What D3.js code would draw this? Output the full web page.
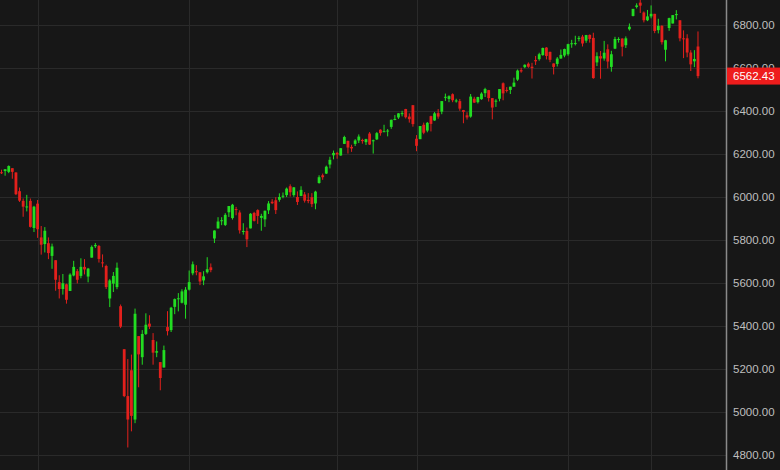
<!DOCTYPE html>
<html><head><meta charset="utf-8">
<script src="https://cdn.jsdelivr.net/npm/d3@7/dist/d3.min.js"></script>
<style>html,body{margin:0;padding:0;background:#171717;}svg{display:block;}</style>
</head><body><div id="chart"></div>
<script>
const dates = ["2025-02-13","2025-02-14","2025-02-18","2025-02-19","2025-02-20","2025-02-21","2025-02-24","2025-02-25","2025-02-26","2025-02-27","2025-02-28",
"2025-03-03","2025-03-04","2025-03-05","2025-03-06","2025-03-07","2025-03-10","2025-03-11","2025-03-12","2025-03-13","2025-03-14","2025-03-17","2025-03-18","2025-03-19","2025-03-20","2025-03-21","2025-03-24","2025-03-25","2025-03-26","2025-03-27","2025-03-28","2025-03-31",
"2025-04-01","2025-04-02","2025-04-03","2025-04-04","2025-04-07","2025-04-08","2025-04-09","2025-04-10","2025-04-11","2025-04-14","2025-04-15","2025-04-16","2025-04-17","2025-04-21","2025-04-22","2025-04-23","2025-04-24","2025-04-25","2025-04-28","2025-04-29","2025-04-30",
"2025-05-01","2025-05-02","2025-05-05","2025-05-06","2025-05-07","2025-05-08","2025-05-09","2025-05-12","2025-05-13","2025-05-14","2025-05-15","2025-05-16","2025-05-19","2025-05-20","2025-05-21","2025-05-22","2025-05-23","2025-05-27","2025-05-28","2025-05-29","2025-05-30",
"2025-06-02","2025-06-03","2025-06-04","2025-06-05","2025-06-06","2025-06-09","2025-06-10","2025-06-11","2025-06-12","2025-06-13","2025-06-16","2025-06-17","2025-06-18","2025-06-20","2025-06-23","2025-06-24","2025-06-25","2025-06-26","2025-06-27","2025-06-30",
"2025-07-01","2025-07-02","2025-07-03","2025-07-07","2025-07-08","2025-07-09","2025-07-10","2025-07-11","2025-07-14","2025-07-15","2025-07-16","2025-07-17","2025-07-18","2025-07-21","2025-07-22","2025-07-23","2025-07-24","2025-07-25","2025-07-28","2025-07-29","2025-07-30","2025-07-31",
"2025-08-01","2025-08-04","2025-08-05","2025-08-06","2025-08-07","2025-08-08","2025-08-11","2025-08-12","2025-08-13","2025-08-14","2025-08-15","2025-08-18","2025-08-19","2025-08-20","2025-08-21","2025-08-22","2025-08-25","2025-08-26","2025-08-27","2025-08-28","2025-08-29",
"2025-09-02","2025-09-03","2025-09-04","2025-09-05","2025-09-08","2025-09-09","2025-09-10","2025-09-11","2025-09-12","2025-09-15","2025-09-16","2025-09-17","2025-09-18","2025-09-19","2025-09-22","2025-09-23","2025-09-24","2025-09-25","2025-09-26","2025-09-29","2025-09-30",
"2025-10-01","2025-10-02","2025-10-03","2025-10-06","2025-10-07","2025-10-08","2025-10-09","2025-10-10","2025-10-13","2025-10-14","2025-10-15","2025-10-16","2025-10-17","2025-10-20","2025-10-21","2025-10-22","2025-10-23","2025-10-24","2025-10-27","2025-10-28","2025-10-29","2025-10-30","2025-10-31",
"2025-11-03","2025-11-04","2025-11-05","2025-11-06","2025-11-07","2025-11-10","2025-11-11","2025-11-12","2025-11-13","2025-11-14","2025-11-17","2025-11-18","2025-11-19","2025-11-20"];

const opens = [6060,6115,6121,6117,6134,6114,6027,5982,5955,5982,5856,
5969,5812,5781,5785,5726,5706,5604,5572,5594,5563,5635,5655,5633,5675,5630,5718,5771,5772,5696,5679,5528,
5597,5581,5492,5292,5074,5194,4965,5353,5255,5363,5411,5335,5276,5232,5207,5395,5381,5489,5529,5508,5499,
5569,5645,5655,5650,5612,5650,5673,5807,5854,5891,5870,5929,5902,5944,5928,5841,5842,5854,5926,5939,5903,
5896,5938,5978,5985,5987,6005,6009,6050,6009,6000,6005,6012,5987,5999,5970,6065,6101,6109,6151,6194,
6205,6193,6247,6261,6233,6247,6263,6265,6255,6295,6259,6268,6313,6304,6306,6326,6359,6370,6389,6409,6374,6427,
6271,6269,6336,6309,6376,6356,6390,6397,6463,6456,6478,6445,6446,6404,6380,6374,6457,6441,6455,6483,6497,
6460,6444,6457,6529,6498,6498,6513,6546,6590,6604,6620,6606,6637,6641,6660,6695,6675,6621,6619,6644,6658,
6664,6711,6715,6735,6746,6727,6754,6740,6626,6655,6644,6687,6605,6690,6732,6737,6706,6780,6842,6884,6904,6858,6822,
6840,6852,6776,6796,6685,6786,6807,6846,6822,6738,6738,6672,6631,6700];

const highs = [6116,6127,6129,6147,6134,6115,6044,5993,6010,5993,5959,
5986,5865,5860,5812,5783,5706,5636,5642,5597,5645,5703,5665,5715,5711,5670,5775,5786,5777,5733,5685,5618,
5651,5695,5500,5292,5246,5267,5481,5353,5381,5459,5450,5367,5328,5232,5309,5469,5489,5528,5553,5571,5581,
5658,5700,5683,5650,5655,5720,5691,5845,5906,5906,5925,5958,5968,5954,5938,5878,5858,5925,5931,5943,5922,
5937,5981,5990,5999,6017,6021,6044,6059,6046,6026,6050,6023,6018,6018,6029,6101,6109,6146,6187,6216,
6210,6228,6285,6262,6243,6269,6291,6271,6271,6302,6267,6302,6315,6336,6316,6360,6381,6390,6401,6410,6389,6428,
6288,6330,6346,6349,6378,6395,6409,6446,6481,6473,6482,6457,6456,6405,6394,6479,6466,6466,6487,6508,6498,
6460,6455,6502,6533,6511,6513,6555,6593,6601,6617,6626,6624,6656,6671,6695,6697,6676,6622,6651,6686,6690,
6713,6731,6750,6749,6754,6754,6756,6764,6673,6679,6726,6710,6680,6745,6743,6738,6747,6807,6875,6901,6920,6863,6870,
6891,6852,6829,6799,6731,6834,6846,6869,6822,6775,6757,6683,6683,6770];

const lows = [6051,6107,6099,6111,6085,6009,5977,5908,5933,5858,5837,
5810,5732,5742,5711,5666,5564,5528,5546,5504,5563,5631,5598,5622,5640,5603,5718,5763,5695,5673,5572,5488,
5558,5571,5390,5069,4835,4910,4948,5115,5220,5358,5386,5220,5255,5101,5207,5356,5372,5455,5468,5505,5434,
5565,5636,5636,5590,5590,5644,5650,5786,5853,5869,5865,5907,5895,5915,5830,5825,5767,5854,5886,5875,5843,
5861,5921,5967,5921,5978,5994,6000,6002,6001,5963,6004,5974,5971,5953,5943,6062,6080,6107,6133,6175,
6178,6192,6247,6202,6210,6237,6251,6248,6242,6242,6202,6265,6285,6303,6282,6317,6357,6363,6375,6365,6346,6327,
6213,6269,6292,6301,6305,6354,6364,6385,6447,6441,6441,6439,6401,6343,6360,6369,6438,6435,6452,6465,6444,
6361,6419,6445,6450,6486,6479,6513,6540,6578,6599,6601,6551,6614,6634,6657,6640,6627,6570,6607,6643,6650,
6657,6694,6705,6724,6700,6717,6718,6550,6609,6550,6634,6598,6583,6688,6718,6654,6693,6774,6840,6877,6856,6812,6818,
6831,6762,6761,6709,6631,6773,6807,6826,6724,6646,6650,6586,6604,6552];

const closes = [6115,6114,6129,6144,6117,6013,5983,5955,5956,5861,5955,
5850,5778,5843,5739,5770,5615,5572,5599,5522,5639,5675,5615,5675,5663,5667,5768,5777,5712,5693,5581,5612,
5633,5671,5397,5074,4965,4982,5457,5268,5363,5406,5397,5276,5283,5158,5288,5376,5485,5525,5529,5561,5569,
5604,5687,5650,5607,5631,5664,5660,5844,5886,5892,5917,5958,5964,5940,5845,5842,5803,5922,5889,5912,5912,
5936,5970,5971,5939,6000,6006,6039,6022,6045,5977,6033,5983,5981,5967,6025,6092,6092,6141,6173,6205,
6198,6227,6279,6230,6226,6263,6281,6260,6269,6244,6264,6297,6297,6306,6309,6359,6363,6389,6390,6371,6362,6339,
6238,6330,6299,6345,6340,6389,6374,6446,6466,6469,6450,6449,6411,6396,6370,6467,6439,6465,6481,6502,6460,
6416,6448,6502,6482,6495,6513,6532,6588,6584,6615,6606,6600,6631,6664,6693,6656,6638,6605,6644,6661,6688,
6711,6715,6716,6740,6714,6753,6735,6553,6655,6644,6671,6630,6664,6735,6735,6699,6738,6792,6875,6891,6890,6822,6840,
6852,6772,6796,6720,6729,6832,6846,6851,6738,6734,6672,6617,6642,6562.43];

const priceTicks = [4800,5000,5200,5400,5600,5800,6000,6200,6400,6600,6800];
const monthLines = ["2025-03-03","2025-05-01","2025-07-01","2025-08-01","2025-10-01","2025-11-03"];
const lastPrice = 6562.43;

const W = 780, H = 470, plotRight = 726;
const data = dates.map((d,i)=>({d, o:opens[i], h:highs[i], l:lows[i], c:closes[i]}));

const svg = d3.select("#chart").append("svg").attr("width",W).attr("height",H);
svg.append("rect").attr("width",W).attr("height",H).attr("fill","#171717");

const x = d3.scaleBand().domain(dates).range([-3.9, 699.8]).paddingInner(0.22).paddingOuter(0.11);
const y = d3.scaleLinear().domain([4800,6800]).range([455,25]);
const xc = d => x(d) + x.bandwidth()/2;

// horizontal grid
svg.append("g").selectAll("line").data(priceTicks).join("line")
  .attr("x1",0).attr("x2",plotRight).attr("y1",d=>Math.round(y(d))+0.5).attr("y2",d=>Math.round(y(d))+0.5)
  .attr("stroke","#2a2a2a").attr("stroke-width",1);
// vertical grid
svg.append("g").selectAll("line").data(monthLines).join("line")
  .attr("x1",d=>Math.round(xc(d))+0.5).attr("x2",d=>Math.round(xc(d))+0.5).attr("y1",0).attr("y2",H)
  .attr("stroke","#2a2a2a").attr("stroke-width",1);

const up = "#22dd22", down = "#e3201c";
const plot = svg.append("g");
plot.selectAll("line.wick").data(data).join("line").attr("class","wick")
  .attr("x1",d=>xc(d.d)).attr("x2",d=>xc(d.d)).attr("y1",d=>y(d.h)).attr("y2",d=>y(d.l))
  .attr("stroke",d=>d.c>=d.o?up:down).attr("stroke-width",1);
plot.selectAll("rect.body").data(data).join("rect").attr("class","body")
  .attr("x",d=>x(d.d)).attr("width",x.bandwidth())
  .attr("y",d=>y(Math.max(d.o,d.c)))
  .attr("height",d=>Math.max(1,Math.abs(y(d.o)-y(d.c))))
  .attr("fill",d=>d.c>=d.o?up:down);

// right axis panel
svg.append("rect").attr("x",plotRight).attr("y",0).attr("width",W-plotRight).attr("height",H).attr("fill","#171717");
svg.append("line").attr("x1",plotRight+0.5).attr("x2",plotRight+0.5).attr("y1",0).attr("y2",H)
  .attr("stroke","#8a8a8a").attr("stroke-width",1.5);

const axis = d3.axisRight(y).tickValues(priceTicks).tickFormat(d=>d.toFixed(2)).tickSize(0).tickPadding(6);
const ag = svg.append("g").attr("transform",`translate(${plotRight+1},0)`).call(axis);
ag.select(".domain").remove();
ag.selectAll("text").attr("fill","#bfbfbf").style("font-family","'Liberation Sans', Arial, sans-serif").style("font-size","11.5px");

// last price label
const ly = y(lastPrice);
svg.append("rect").attr("x",plotRight+1).attr("y",ly-8.5).attr("width",W-plotRight-1).attr("height",17).attr("fill","#ee1c1c");
svg.append("text").attr("x",plotRight+7).attr("y",ly).attr("dy","0.35em").text(lastPrice.toFixed(2))
  .attr("fill","#ffffff").style("font-family","'Liberation Sans', Arial, sans-serif").style("font-size","11.5px");
</script></body></html>
